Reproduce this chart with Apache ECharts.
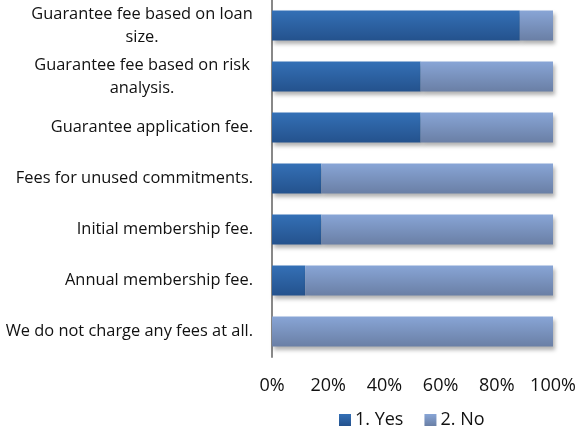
<!DOCTYPE html>
<html>
<head>
<meta charset="utf-8">
<script src="https://cdn.jsdelivr.net/npm/echarts@6/dist/echarts.min.js"></script>
<style>
html, body { margin: 0; padding: 0; background: #fff; }
#chart { width: 576px; height: 428px; }
</style>
</head>
<body>
<div id="chart"></div>
<script>
var categories = [
	'Guarantee fee based on loan\nsize.',
	'Guarantee fee based on risk\nanalysis.',
	'Guarantee application fee.',
	'Fees for unused commitments.',
	'Initial membership fee.',
	'Annual membership fee.',
	'We do not charge any fees at all.'
];
var yesData = [88.2, 52.9, 52.9, 17.6, 17.6, 11.8, 0];
var noData = [11.8, 47.1, 47.1, 82.4, 82.4, 88.2, 100];
var tickLabels = ['0%', '20%', '40%', '60%', '80%', '100%'];

var FONT = '"Open Sans", sans-serif';
var FSIZE = 16.4;
var TXT = '#111';

// width of the longest line, so wrapped labels can be centred under it
function textWidth(s) {
	var c = document.createElement('canvas').getContext('2d');
	c.font = FSIZE + 'px "Open Sans"';
	return Math.ceil(c.measureText(s).width);
}

function grad(c1, c2) {
	return new echarts.graphic.LinearGradient(0, 0, 0, 1, [
		{offset: 0, color: c1},
		{offset: 1, color: c2}
	]);
}

var myChart = echarts.init(document.getElementById('chart'));

var maxW = 0;
categories.forEach(function (v) {
	var lines = v.split('\n');
	if (lines.length > 1) maxW = Math.max(maxW, textWidth(lines[0]));
});

var option = {
	animation: false,
	textStyle: {fontFamily: FONT},
	grid: {left: 272, right: 23, top: 0, bottom: 71, containLabel: false, outerBoundsMode: 'none'},
	legend: {
		left: 334,
		top: 406,
		itemWidth: 12,
		itemHeight: 12,
		itemGap: 21,
		icon: 'rect',
		textStyle: {fontSize: 18, color: TXT, fontFamily: FONT, padding: [0, 0, 0, -1]},
		data: ['1. Yes', '2. No']
	},
	xAxis: {
		type: 'value',
		min: 0,
		max: 100,
		interval: 20,
		axisLine: {show: false},
		axisTick: {show: false},
		splitLine: {show: false},
		axisLabel: {
			margin: 20,
			fontSize: 18,
			color: TXT,
			fontFamily: FONT,
			formatter: function (v) { return tickLabels[Math.round(v / 20)]; }
		}
	},
	yAxis: {
		type: 'category',
		inverse: true,
		data: categories,
		axisLine: {show: true, lineStyle: {color: '#888', width: 2}},
		axisTick: {show: false},
		axisLabel: {
			margin: 19,
			fontSize: FSIZE,
			color: TXT,
			fontFamily: FONT,
			lineHeight: 23,
			formatter: function (v) {
				var lines = v.split('\n');
				if (lines.length == 1) return v;
				return lines.map(function (l) { return '{c|' + l + '}'; }).join('\n');
			},
			rich: {
				c: {
					width: maxW,
					fontSize: FSIZE,
					fontFamily: FONT,
					color: TXT,
					lineHeight: 23,
					align: 'center'
				}
			}
		}
	},
	series: [{
		name: '1. Yes',
		type: 'bar',
		stack: 'all',
		barWidth: 30,
		itemStyle: {
			color: grad('#3470b6', '#24528d'),
			shadowBlur: 4,
			shadowOffsetX: 2,
			shadowOffsetY: 3,
			shadowColor: 'rgba(0,0,0,0.3)'
		},
		data: yesData
	}, {
		name: '2. No',
		type: 'bar',
		stack: 'all',
		barWidth: 30,
		itemStyle: {
			color: grad('#88a5d6', '#6a7fa5'),
			shadowBlur: 4,
			shadowOffsetX: 2,
			shadowOffsetY: 3,
			shadowColor: 'rgba(0,0,0,0.3)'
		},
		data: noData
	}]
};

myChart.setOption(option);
</script>
</body>
</html>
